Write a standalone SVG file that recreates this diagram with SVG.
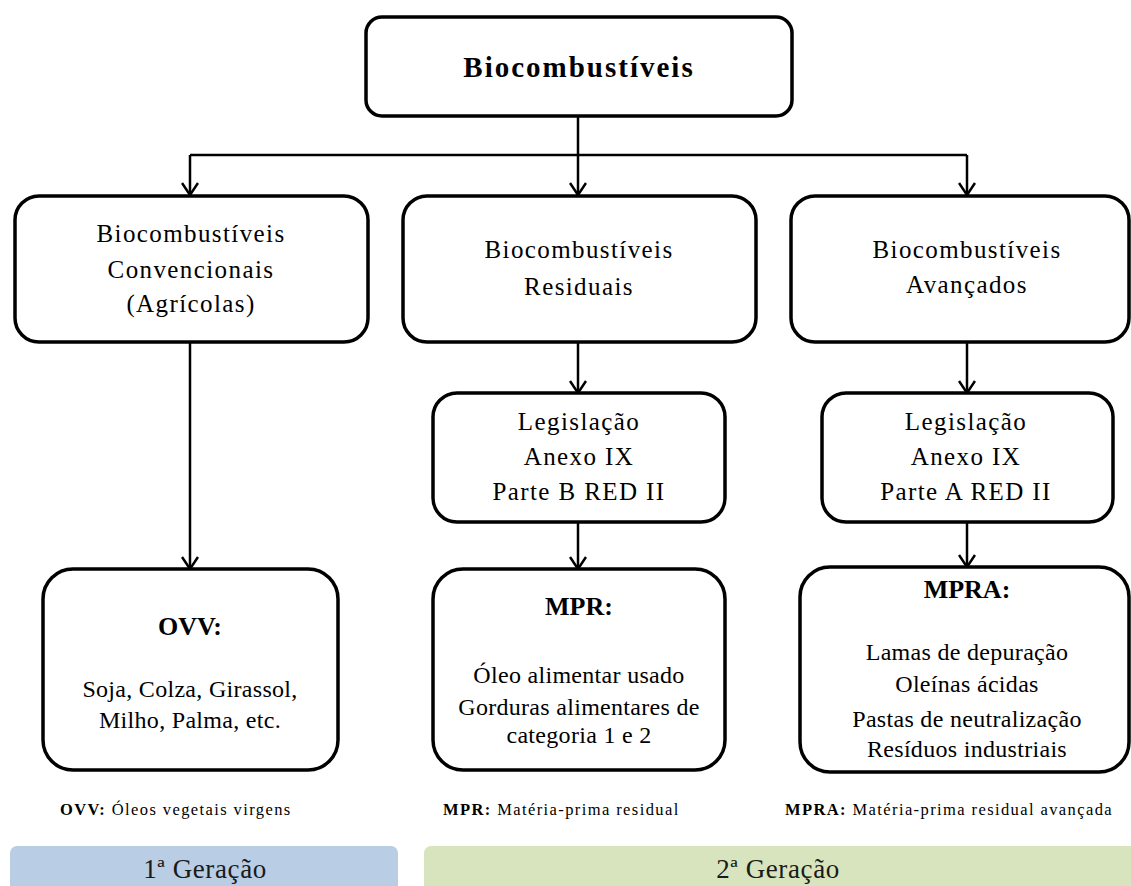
<svg xmlns="http://www.w3.org/2000/svg" width="1131" height="886" viewBox="0 0 1131 886">
<style>
text{font-family:"Liberation Serif","Times New Roman",serif;fill:#000;text-anchor:middle}
.box{fill:#fff;stroke:#000;stroke-width:3.5}
.conn{fill:none;stroke:#000;stroke-width:2.5}
.title{font-size:29px;font-weight:bold;letter-spacing:2px}
.lvl{font-size:25px;letter-spacing:1.4px}
.head{font-size:26px;font-weight:bold}
.body{font-size:24px;letter-spacing:0.3px}
.leg{font-size:16.5px;letter-spacing:1.4px;text-anchor:start}
.leg tspan.b{font-weight:bold}
.band{font-size:27px;letter-spacing:0.6px;fill:#1a1a1a}
</style>
<defs>
<marker id="arr" viewBox="0 0 14 18" refX="13" refY="9" markerWidth="14" markerHeight="18" markerUnits="userSpaceOnUse" orient="auto">
<path d="M1,1 L13,9 L1,17" fill="none" stroke="#000" stroke-width="2.5"/>
</marker>
</defs>

<g id="connectors">
<path class="conn" d="M578,116 V155 M190,155 H967"/>
<path class="conn" d="M190,155 V195" marker-end="url(#arr)"/>
<path class="conn" d="M578,155 V195" marker-end="url(#arr)"/>
<path class="conn" d="M967,155 V195" marker-end="url(#arr)"/>
<path class="conn" d="M190,342 V569" marker-end="url(#arr)"/>
<path class="conn" d="M578,342 V393" marker-end="url(#arr)"/>
<path class="conn" d="M578,522 V569" marker-end="url(#arr)"/>
<path class="conn" d="M967,342 V393" marker-end="url(#arr)"/>
<path class="conn" d="M967,522 V567" marker-end="url(#arr)"/>
</g>

<g id="root">
<rect class="box" x="366" y="17" width="426" height="99" rx="16"/>
<text class="title" x="579" y="77">Biocombustíveis</text>
</g>

<g id="convencionais">
<rect class="box" x="15" y="196" width="353" height="146" rx="24"/>
<text class="lvl" x="191" y="242">Biocombustíveis</text>
<text class="lvl" x="191" y="278">Convencionais</text>
<text class="lvl" x="191" y="312">(Agrícolas)</text>
</g>

<g id="residuais">
<rect class="box" x="403" y="196" width="353" height="146" rx="24"/>
<text class="lvl" x="579" y="258">Biocombustíveis</text>
<text class="lvl" x="579" y="295">Residuais</text>
</g>

<g id="avancados">
<rect class="box" x="791" y="196" width="338" height="146" rx="24"/>
<text class="lvl" x="967" y="258">Biocombustíveis</text>
<text class="lvl" x="967" y="293">Avançados</text>
</g>

<g id="legislacao-b">
<rect class="box" x="433" y="393" width="292" height="129" rx="24"/>
<text class="lvl" x="579" y="430">Legislação</text>
<text class="lvl" x="579" y="465">Anexo IX</text>
<text class="lvl" x="579" y="500">Parte B RED II</text>
</g>

<g id="legislacao-a">
<rect class="box" x="822" y="393" width="291" height="129" rx="24"/>
<text class="lvl" x="966" y="430">Legislação</text>
<text class="lvl" x="966" y="465">Anexo IX</text>
<text class="lvl" x="966" y="500">Parte A RED II</text>
</g>

<g id="ovv">
<rect class="box" x="43" y="569" width="295" height="201" rx="30"/>
<text class="head" x="190" y="635">OVV:</text>
<text class="body" x="190" y="697">Soja, Colza, Girassol,</text>
<text class="body" x="190" y="728">Milho, Palma, etc.</text>
</g>

<g id="mpr">
<rect class="box" x="433" y="569" width="292" height="201" rx="30"/>
<text class="head" x="579" y="615">MPR:</text>
<text class="body" x="579" y="683">Óleo alimentar usado</text>
<text class="body" x="579" y="715">Gorduras alimentares de</text>
<text class="body" x="579" y="743">categoria 1 e 2</text>
</g>

<g id="mpra">
<rect class="box" x="800" y="567" width="329" height="205" rx="30"/>
<text class="head" x="967" y="598">MPRA:</text>
<text class="body" x="967" y="660">Lamas de depuração</text>
<text class="body" x="967" y="692">Oleínas ácidas</text>
<text class="body" x="967" y="727">Pastas de neutralização</text>
<text class="body" x="967" y="757">Resíduos industriais</text>
</g>

<g id="legend">
<text class="leg" x="60" y="815"><tspan class="b">OVV:</tspan> Óleos vegetais virgens</text>
<text class="leg" x="443" y="815"><tspan class="b">MPR:</tspan> Matéria-prima residual</text>
<text class="leg" x="785" y="815"><tspan class="b">MPRA:</tspan> Matéria-prima residual avançada</text>
</g>

<g id="geracao-1">
<rect x="10" y="846" width="388" height="50" rx="7" fill="#b9cde5"/>
<text class="band" x="205" y="878">1ª Geração</text>
</g>

<g id="geracao-2">
<rect x="424" y="846" width="715" height="50" rx="7" fill="#d7e4bd"/>
<text class="band" x="778" y="878">2ª Geração</text>
</g>
</svg>
